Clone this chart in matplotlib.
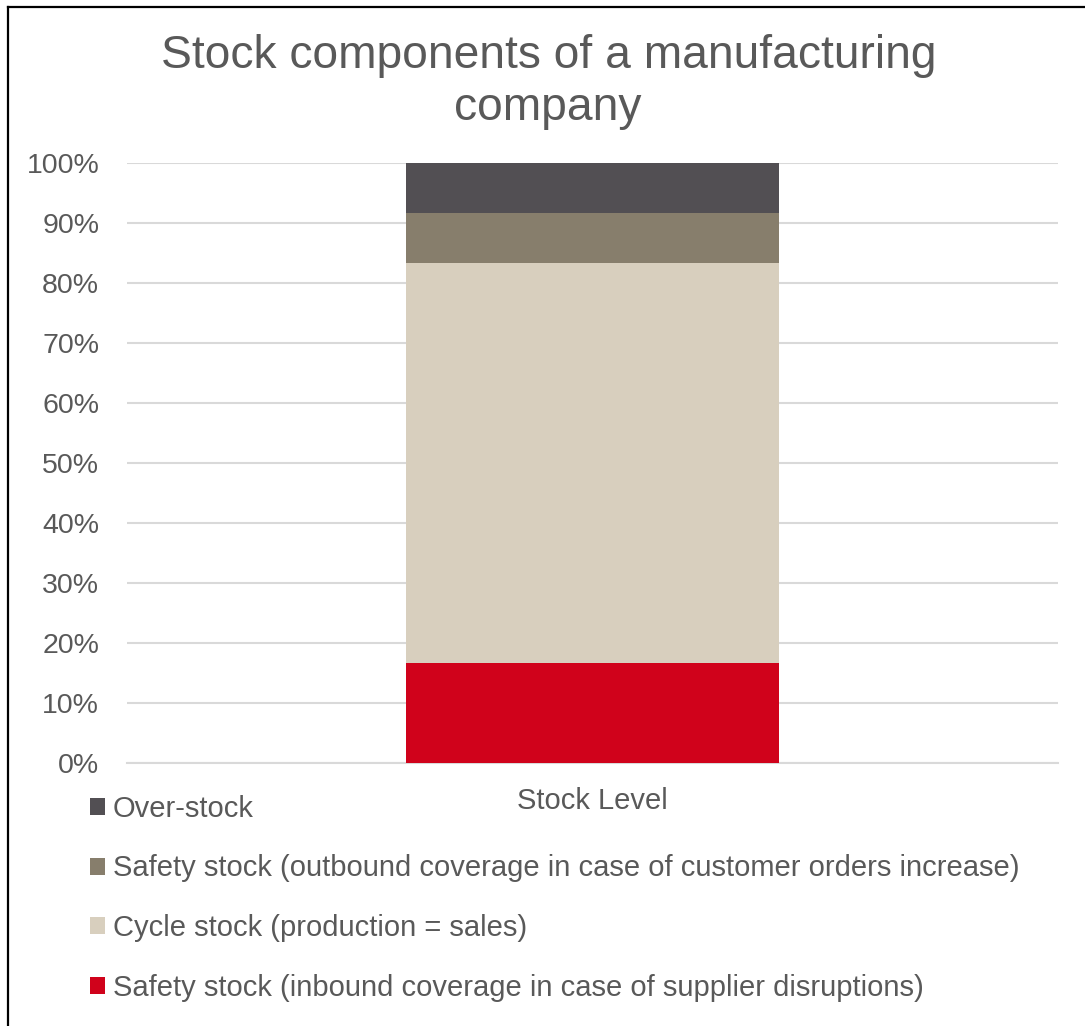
import matplotlib
matplotlib.use("Agg")
from matplotlib import pyplot as plt
from matplotlib.lines import Line2D
from matplotlib.patches import Patch
from matplotlib.ticker import PercentFormatter

plt.rcParams['font.family'] = ['Liberation Sans', 'DejaVu Sans']

categories = ["Stock Level"]
series_names = [
    "Safety stock (inbound coverage in case of supplier disruptions)",
    "Cycle stock (production = sales)",
    "Safety stock (outbound coverage in case of customer orders increase)",
    "Over-stock",
]
series_values = [
    [16.7],
    [66.6],
    [8.3],
    [8.4],
]
colors = ["#D0021B", "#D8CFBE", "#877E6C", "#524F53"]
text_color = "#595959"
grid_color = "#D9D9D9"

fig = plt.figure(figsize=(10.85, 10.26), dpi=100)
ax = fig.add_axes([0.117, 0.2563, 0.858, 0.5848])

bottom = [0.0] * len(categories)
for name, vals, col in zip(series_names, series_values, colors):
    ax.bar(categories, vals, width=0.4, bottom=bottom, color=col, label=name, zorder=3)
    bottom = [b + v for b, v in zip(bottom, vals)]

ax.set_xlim(-0.5, 0.5)
ax.set_ylim(0, 100)
ax.set_yticks(range(0, 101, 10))
ax.yaxis.set_major_formatter(PercentFormatter(decimals=0))
ax.grid(axis='y', color=grid_color, linewidth=1.5, zorder=0)
for side in ("top", "right", "left"):
    ax.spines[side].set_visible(False)
ax.spines["bottom"].set_color(grid_color)
ax.spines["bottom"].set_linewidth(1.5)
ax.tick_params(axis='both', length=0, labelcolor=text_color)
ax.tick_params(axis='y', labelsize=20.5, pad=20)
ax.tick_params(axis='x', labelsize=21, pad=17.6)

# two-line title, each line placed on its own baseline
fig.text(0.5055, 1 - 68 / 1026, "Stock components of a manufacturing",
         ha='center', va='baseline', fontsize=33.2, color=text_color)
fig.text(0.5046, 1 - 120 / 1026, "company",
         ha='center', va='baseline', fontsize=33.2, color=text_color)

handles = [Patch(facecolor=c, edgecolor='none') for c in colors][::-1]
labels = series_names[::-1]
fig.legend(handles, labels, loc='upper left', bbox_to_anchor=(0.083, 0.2255),
           frameon=False, fontsize=21, labelcolor=text_color,
           handlelength=0.52, handleheight=0.52, handletextpad=0.25,
           labelspacing=1.09, borderpad=0, borderaxespad=0)

# frame lines along the left and top edges
fig.add_artist(Line2D([8 / 1085, 8 / 1085], [0, 1 - 7 / 1026], color='black',
                      linewidth=1.6, transform=fig.transFigure))
fig.add_artist(Line2D([8 / 1085, 1], [1 - 7 / 1026, 1 - 7 / 1026], color='black',
                      linewidth=1.6, transform=fig.transFigure))

fig.savefig("out.png", dpi=100)
